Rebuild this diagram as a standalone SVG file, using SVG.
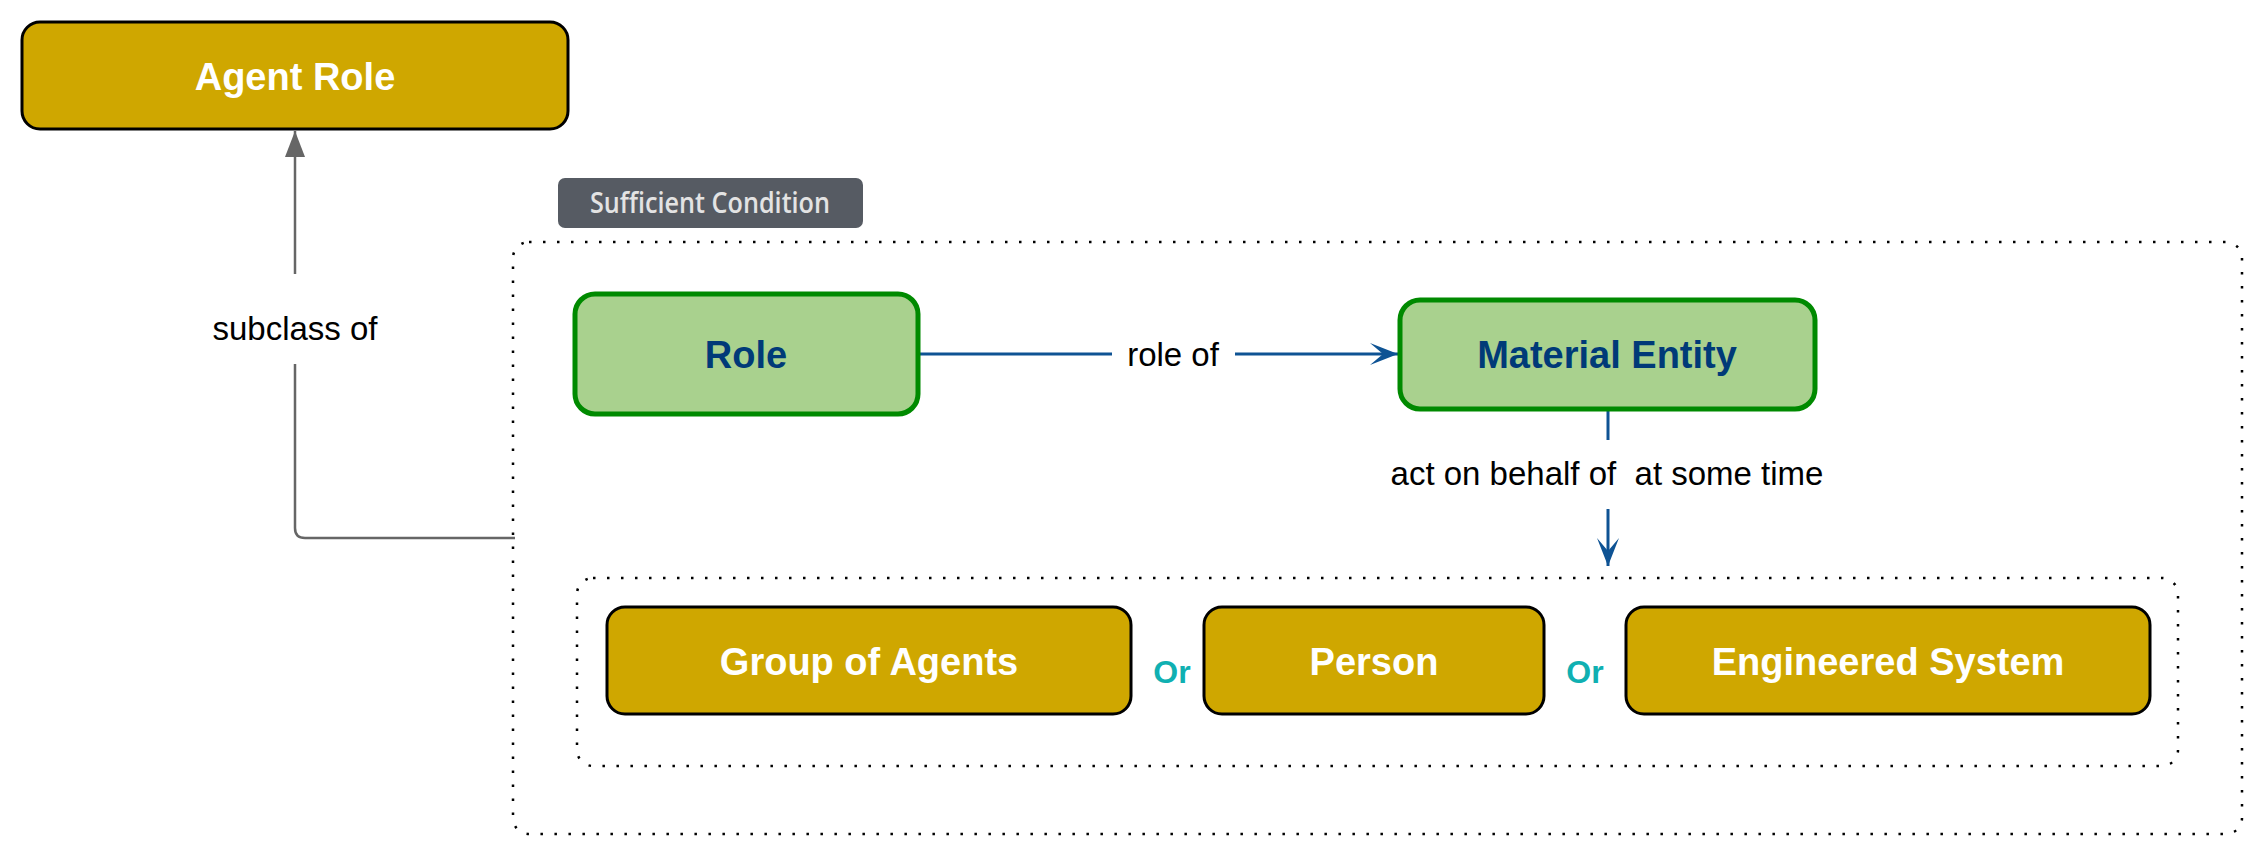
<svg xmlns="http://www.w3.org/2000/svg" width="2263" height="855" viewBox="0 0 2263 855">
<defs>
<style>
.gold{fill:#cfa700;stroke:#000;stroke-width:3}
.green{fill:#a9d18e;stroke:#008a00;stroke-width:5}
.dotted{fill:none;stroke:#000;stroke-width:2.5;stroke-dasharray:2.5 11.5}
.lblW{font-family:"Liberation Sans",Arial,sans-serif;font-weight:bold;font-size:38px;fill:#fff;text-anchor:middle}
.lblB{font-family:"Liberation Sans",Arial,sans-serif;font-weight:bold;font-size:38px;fill:#003a78;text-anchor:middle}
.edge{font-family:"Liberation Sans",Arial,sans-serif;font-size:33px;fill:#000;text-anchor:middle;white-space:pre}
.or{font-family:"Liberation Sans",Arial,sans-serif;font-weight:bold;font-size:32px;fill:#10b0b2;text-anchor:middle}
.gray{fill:none;stroke:#666;stroke-width:2.5}
.blue{fill:none;stroke:#0e5394;stroke-width:3}
</style>
<marker id="arrGray" viewBox="0 0 26 20" markerWidth="26" markerHeight="20" refX="26" refY="10" orient="auto" markerUnits="userSpaceOnUse">
<path d="M0,0 L26,10 L0,20 Z" fill="#666"/>
</marker>
<marker id="arrBlue" viewBox="0 0 28 22" markerWidth="28" markerHeight="22" refX="28" refY="11" orient="auto" markerUnits="userSpaceOnUse">
<path d="M0,0 L28,11 L0,22 L13,11 Z" fill="#0e5394"/>
</marker>
</defs>
<rect width="2263" height="855" fill="#fff"/>

<g id="containers">
<rect class="dotted" x="513" y="242" width="1729" height="592" rx="16"/>
<rect class="dotted" x="577" y="578" width="1601" height="188" rx="16"/>
</g>

<g id="sufficient-condition">
<rect x="558" y="178" width="305" height="50" rx="7" fill="#565b63"/>
<text x="710" y="213" font-family="'Open Sans',sans-serif" font-size="28" font-weight="600" fill="#e3e3e3" text-anchor="middle" textLength="240" lengthAdjust="spacingAndGlyphs">Sufficient Condition</text>
</g>

<g id="connectors">
<path class="gray" d="M515,538 H305 Q295,538 295,528 V364"/>
<path class="gray" d="M295,274 V131" marker-end="url(#arrGray)"/>
<text class="edge" x="295" y="340">subclass of</text>
<path class="blue" d="M918,354 H1112"/>
<path class="blue" d="M1235,354 H1398" marker-end="url(#arrBlue)"/>
<text class="edge" x="1173" y="366">role of</text>
<path class="blue" d="M1608,409 V440"/>
<path class="blue" d="M1608,509 V566" marker-end="url(#arrBlue)"/>
<text class="edge" x="1607" y="485">act on behalf of  at some time</text>
</g>

<g id="agent-role">
<rect class="gold" x="22" y="22" width="546" height="107" rx="18"/>
<text class="lblW" x="295" y="90">Agent Role</text>
</g>

<g id="role">
<rect class="green" x="575" y="294" width="343" height="120" rx="20"/>
<text class="lblB" x="746" y="368">Role</text>
</g>

<g id="material-entity">
<rect class="green" x="1400" y="300" width="415" height="109" rx="20"/>
<text class="lblB" x="1607" y="368">Material Entity</text>
</g>

<g id="group-of-agents">
<rect class="gold" x="607" y="607" width="524" height="107" rx="18"/>
<text class="lblW" x="869" y="675">Group of Agents</text>
</g>

<g id="person">
<rect class="gold" x="1204" y="607" width="340" height="107" rx="18"/>
<text class="lblW" x="1374" y="675">Person</text>
</g>

<g id="engineered-system">
<rect class="gold" x="1626" y="607" width="524" height="107" rx="18"/>
<text class="lblW" x="1888" y="675">Engineered System</text>
</g>

<g id="or-labels">
<text class="or" x="1172" y="683">Or</text>
<text class="or" x="1585" y="683">Or</text>
</g>
</svg>
